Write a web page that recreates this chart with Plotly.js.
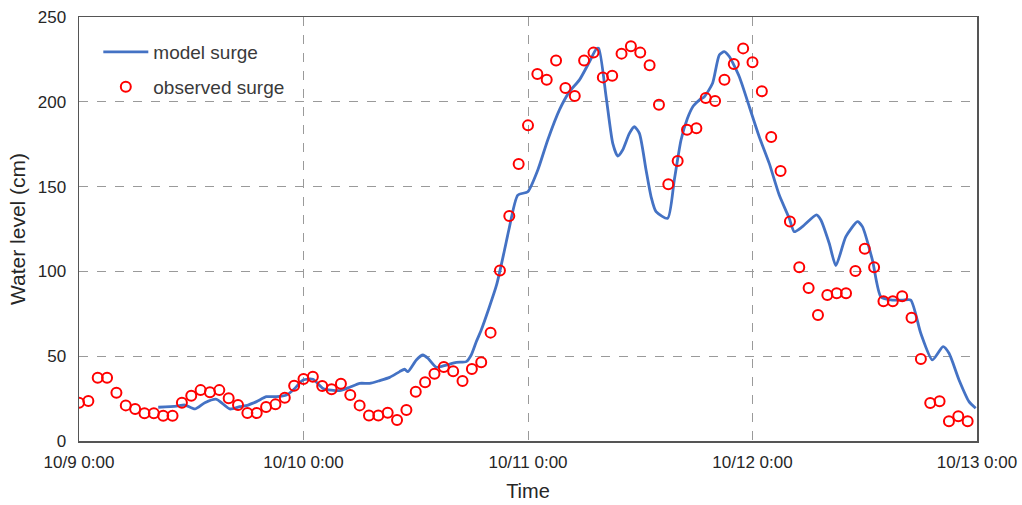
<!DOCTYPE html>
<html>
<head>
<meta charset="utf-8">
<script src="https://cdn.plot.ly/plotly-3.0.1.min.js"></script>
<style>html,body{margin:0;padding:0;background:#fff;}#chart{width:1022px;height:505px;}</style>
</head>
<body>
<div id="chart"></div>
<script>
// Hours since 10/9 0:00
const tickHours = [0, 24, 48, 72, 96];
const tickLabels = ["10/9 0:00", "10/10 0:00", "10/11 0:00", "10/12 0:00", "10/13 0:00"];

// Observed surge (cm), hourly from hour 0
const obsHours = [0,1,2,3,4,5,6,7,8,9,10,11,12,13,14,15,16,17,18,19,20,21,22,23,24,25,26,27,28,29,30,31,32,33,34,35,36,37,38,39,40,41,42,43,44,45,46,47,48,49,50,51,52,53,54,55,56,57,58,59,60,61,62,63,64,65,66,67,68,69,70,71,72,73,74,75,76,77,78,79,80,81,82,83,84,85,86,87,88,89,90,91,92,93,94,95];
const obsLevel = [22.6,23.6,37.3,37.3,28.5,21,18.9,16.3,16.3,14.9,14.9,22.6,26.7,30,28.7,30,25.2,21.2,16.5,16.5,20,21.6,25.5,32.6,36.5,37.9,32.4,30.5,33.8,27.1,21,15.1,15.1,16.7,12.4,18.3,29.1,34.6,39.7,43.6,41.1,35.4,42.5,46.4,63.9,100.5,132.7,163.3,186.1,216.4,213,224.4,208.1,203.4,224.4,229,214.4,215.4,228.4,232.7,229,221.5,198.3,151.4,165.1,183.5,184.4,202.2,200.5,213,222.3,231.5,223.3,206.2,179.2,159.2,129.4,102.4,90.2,74.3,86.1,87.1,87.1,100.2,113.4,102.4,82.4,82.4,85.3,72.7,48.3,22.4,23.4,11.6,14.6,11.6];

// Model surge (cm)
const modelHours = [8.47,10.43,11.32,12.39,13.45,14.7,16.12,17.19,18.08,18.98,20.04,21.11,22.18,23.07,23.95,25.02,26.09,27.87,28.94,30.01,31.07,32.14,33.21,34.28,34.81,35.16,36.06,36.77,37.3,38.2,39.26,40.33,41.4,41.93,42.47,43.0,44.64,45.49,45.95,46.91,47.98,49.05,50.11,51.36,52.43,53.5,54.57,55.28,55.56,56.35,57.06,57.59,58.12,58.84,59.37,59.91,60.62,61.16,61.69,62.93,63.64,64.36,65.03,65.67,66.31,66.85,67.73,68.45,68.98,69.52,70.59,71.66,72.72,73.79,74.86,75.93,76.46,77.34,78.84,79.31,80.2,80.91,81.98,83.22,83.75,84.82,85.72,86.95,88.02,88.92,89.99,91.23,92.37,93.01,94.08,95.15,95.86];
const modelLevel = [19.9,20.6,21.2,18.9,22.6,24.6,18.9,20.2,21.2,23.2,26.1,26.1,27.1,31,36,36.4,31,29.7,31.7,34,34,35.6,37.5,40.9,42.3,40.9,47.8,50.7,48.8,43.5,44.8,46.4,46.8,50.7,58.5,65.4,92,112.6,124.4,145,147,159.8,177.5,195.2,206,212.9,223.6,231,231.5,203,175.5,168,171.6,181.4,185.3,181.4,159.8,144,135.2,131.3,153.9,177.5,190,197.5,201,203,210.9,227.6,229.6,226.7,214.8,197.1,179.4,163.7,145,131.3,123.4,126.4,133.3,130.3,116.6,103.4,120.5,129.3,126.4,106.7,85.1,83.1,83.1,83.1,63.5,47.8,55.6,51.7,36,23.2,19.3];

const yTicks = [0, 50, 100, 150, 200, 250];

const FONT = "Liberation Sans, Arial, sans-serif";
const TXT = "#262626";

const traces = [
  {
    x: modelHours, y: modelLevel, type: "scatter", mode: "lines",
    name: "model surge", legendgroup: "a",
    line: {color: "#4472C4", width: 2.8, shape: "spline", smoothing: 0.6}
  },
  {
    x: obsHours, y: obsLevel, type: "scatter", mode: "markers",
    name: "observed surge", legendgroup: "b",
    marker: {symbol: "circle-open", size: 10, color: "#FF0000", line: {width: 2, color: "#FF0000"}}
  }
];

const layout = {
  width: 1022, height: 505,
  margin: {l: 79, r: 45, t: 17, b: 64},
  paper_bgcolor: "#ffffff", plot_bgcolor: "#ffffff",
  font: {family: FONT, color: TXT, size: 17},
  showlegend: true,
  legend: {
    x: 0.0215, y: 0.962, xanchor: "left", yanchor: "top",
    bgcolor: "rgba(0,0,0,0)", borderwidth: 0,
    font: {family: FONT, size: 19, color: "#3a3a3a"},
    traceorder: "grouped", tracegroupgap: 7, itemwidth: 45
  },
  xaxis: {
    range: [0, 96], tickvals: tickHours, ticktext: tickLabels,
    showgrid: true, gridcolor: "#9a9a9a", griddash: "dash", gridwidth: 1,
    showline: true, linecolor: "#555555", linewidth: 1.5, mirror: true,
    ticks: "", zeroline: false, ticklabelstandoff: 5,
    tickfont: {family: FONT, size: 17, color: TXT},
    title: {text: "Time", font: {family: FONT, size: 20, color: TXT}, standoff: 13}
  },
  yaxis: {
    range: [0, 250], tickvals: yTicks,
    showgrid: true, gridcolor: "#9a9a9a", griddash: "dash", gridwidth: 1,
    showline: true, linecolor: "#555555", linewidth: 1.5, mirror: true,
    ticks: "", zeroline: false, ticklabelstandoff: 8,
    tickfont: {family: FONT, size: 17, color: TXT},
    title: {text: "Water level (cm)", font: {family: FONT, size: 21, color: TXT}, standoff: 6}
  }
};

Plotly.newPlot("chart", traces, layout, {displayModeBar: false, staticPlot: true});
</script>
</body>
</html>
